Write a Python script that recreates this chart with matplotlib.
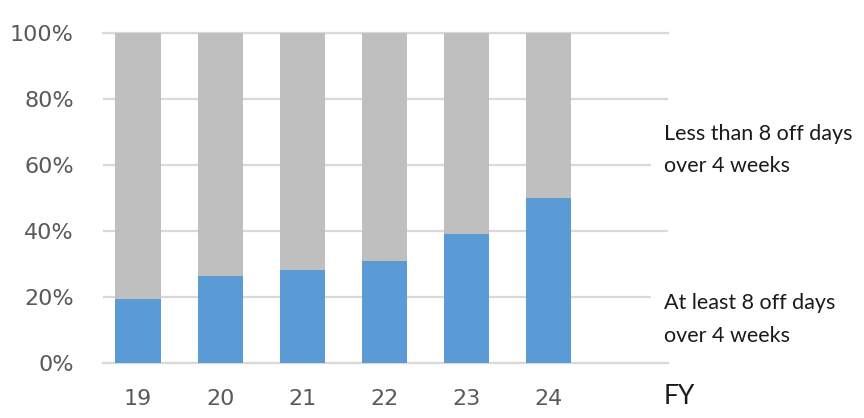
import matplotlib
matplotlib.use("Agg")
import matplotlib.pyplot as plt
import numpy as np

years = ["19", "20", "21", "22", "23", "24"]
at_least_8 = [19.2, 26.4, 28.1, 30.8, 39.0, 50.1]
less_than_8 = [100 - v for v in at_least_8]
yticks = [0, 20, 40, 60, 80, 100]
ytick_labels = ["0%", "20%", "40%", "60%", "80%", "100%"]
label_top = "Less than 8 off days\nover 4 weeks"
label_bottom = "At least 8 off days\nover 4 weeks"

blue = "#5B9BD5"
grey = "#BFBFBF"
grid_c = "#D9D9D9"
tick_c = "#595959"

fig = plt.figure(figsize=(8.64, 4.18), dpi=100)
ax = fig.add_axes([103/864, 1 - 362.7/418, 565/864, (362.7 - 33)/418])

x = np.arange(len(years))
ax.bar(x, at_least_8, width=0.55, color=blue, zorder=3)
ax.bar(x, less_than_8, width=0.55, bottom=at_least_8, color=grey, zorder=3)

ax.set_xlim(-0.426, 6.455)
ax.set_ylim(0, 100)
ax.set_yticks(yticks)
ax.set_yticklabels(ytick_labels)
ax.set_xticks(x)
ax.set_xticklabels(years)
ax.yaxis.grid(True, color=grid_c, linewidth=1.6, zorder=0)
ax.set_axisbelow(True)
for s in ax.spines.values():
    s.set_visible(False)
ax.tick_params(axis="both", length=0, labelsize=16, labelcolor=tick_c)
ax.tick_params(axis="y", pad=21)
ax.tick_params(axis="x", pad=19)

ax.axhline(0, color=grid_c, linewidth=1.6, zorder=2, clip_on=False)
ax.axhline(100, color=grid_c, linewidth=1.6, zorder=2, clip_on=False)

tfont = dict(family=["Lato", "DejaVu Sans"], fontsize=15.5, color="#1a1a1a",
             linespacing=1.8, va="center", ha="left")
xt = 6.455 - 4 / 82.1
ax.text(xt, 64.5, label_top, transform=ax.transData,
        bbox=dict(facecolor="white", edgecolor="none", boxstyle="square,pad=0.6"),
        zorder=5, clip_on=False, **tfont)
ax.text(xt, 13.2, label_bottom, transform=ax.transData,
        bbox=dict(facecolor="white", edgecolor="none", boxstyle="square,pad=0.6"),
        zorder=5, clip_on=False, **tfont)

fig.text(664/864, 1 - 397/418, "FY", family=["Lato", "DejaVu Sans"], fontsize=19,
         color="#1a1a1a", ha="left", va="center")

fig.savefig("out.png", dpi=100, facecolor="white")
